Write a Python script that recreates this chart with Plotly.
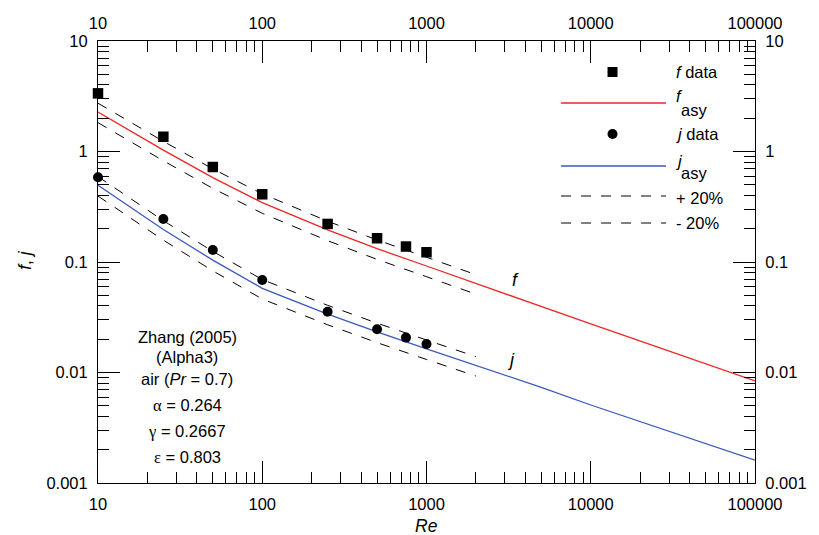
import plotly.graph_objects as go

# ---------------- data ----------------
re_data = [10, 25, 50, 100, 250, 500, 750, 1000]
f_data = [3.36, 1.36, 0.724, 0.41, 0.221, 0.164, 0.138, 0.1225]
j_data = [0.584, 0.245, 0.1285, 0.0687, 0.0355, 0.0246, 0.0207, 0.0181]

re_asy = [10, 25, 50, 100, 250, 500, 1000, 2000, 5000, 10000, 100000]
f_asy = [2.28, 1.03, 0.58, 0.345, 0.195, 0.132, 0.092, 0.064, 0.0395, 0.0275, 0.0084]
j_asy = [0.494, 0.197, 0.104, 0.0578, 0.0338, 0.0233, 0.0164, 0.0116, 0.00734, 0.00508, 0.00161]

band_max_re = 2000  # +/-20% bands drawn up to this Re

x_tickvals = [10, 100, 1000, 10000, 100000]
x_ticktext = ["10", "100", "1000", "10000", "100000"]
y_tickvals = [0.001, 0.01, 0.1, 1, 10]
y_ticktext = ["0.001", "0.01", "0.1", "1", "10"]

SER = '<span style="font-family:Liberation Serif, Times New Roman, serif">'
info_lines = ["Zhang (2005)", "(Alpha3)", "air (<i>Pr</i> = 0.7)",
              SER + "\u03b1</span> = 0.264", SER + "\u03b3</span> = 0.2667",
              SER + "\u03b5</span> = 0.803"]

# ---------------- layout geometry (pixels) ----------------
W, H = 819, 535
L, R, T, B = 98, 762, 41, 483
FONT = "Liberation Sans, Arial, sans-serif"
FS = 16.5
RED = "#f02525"
BLUE = "#3a58c0"


def px(x):
    return (x - L) / (R - L)


def py(y):
    return (B - y) / (B - T)


band_re = [r for r in re_asy if r <= band_max_re]
f_hi = [1.2 * v for r, v in zip(re_asy, f_asy) if r <= band_max_re]
f_lo = [0.8 * v for r, v in zip(re_asy, f_asy) if r <= band_max_re]
j_hi = [1.2 * v for r, v in zip(re_asy, j_asy) if r <= band_max_re]
j_lo = [0.8 * v for r, v in zip(re_asy, j_asy) if r <= band_max_re]

fig = go.Figure()
dash = dict(color="black", width=1, dash="10px,10px")
for yy in (f_hi, f_lo, j_hi, j_lo):
    fig.add_trace(go.Scatter(x=band_re, y=yy, mode="lines", line=dash,
                             showlegend=False, hoverinfo="skip"))
fig.add_trace(go.Scatter(x=re_asy, y=f_asy, mode="lines",
                         line=dict(color=RED, width=1.3), showlegend=False))
fig.add_trace(go.Scatter(x=re_asy, y=j_asy, mode="lines",
                         line=dict(color=BLUE, width=1.3), showlegend=False))
fig.add_trace(go.Scatter(x=re_data, y=f_data, mode="markers", cliponaxis=False,
                         marker=dict(symbol="square", size=10.5, color="black"),
                         showlegend=False))
fig.add_trace(go.Scatter(x=re_data, y=j_data, mode="markers", cliponaxis=False,
                         marker=dict(symbol="circle", size=10, color="black"),
                         showlegend=False))
# dummy trace to activate mirrored axes with labels
fig.add_trace(go.Scatter(x=[], y=[], xaxis="x2", yaxis="y2", showlegend=False))


def minor_vals(lo, hi):
    out = []
    for d in range(lo, hi):
        for m in range(2, 10):
            out.append(m * 10 ** d)
    return out


tickfont = dict(family=FONT, size=FS, color="black")
common = dict(type="log", ticks="inside", ticklen=22, tickwidth=1, tickcolor="black",
              showline=True, linecolor="black", linewidth=1, showgrid=False,
              zeroline=False, tickfont=tickfont, tickmode="array")
xcommon = dict(common, range=[1, 5], tickvals=x_tickvals, ticktext=x_ticktext,
               minor=dict(ticks="inside", ticklen=11, tickwidth=1, tickcolor="black",
                          tickmode="array", tickvals=minor_vals(1, 5), showgrid=False))
ycommon = dict(common, range=[-3, 1], tickvals=y_tickvals, ticktext=y_ticktext,
               minor=dict(ticks="inside", ticklen=11, tickwidth=1, tickcolor="black",
                          tickmode="array", tickvals=minor_vals(-3, 1), showgrid=False))

fig.update_layout(
    width=W, height=H,
    margin=dict(l=L, r=W - R, t=T, b=H - B),
    paper_bgcolor="white", plot_bgcolor="white",
    font=dict(family=FONT, size=FS, color="black"),
    xaxis=dict(xcommon, side="bottom", anchor="y", ticklabelstandoff=6),
    yaxis=dict(ycommon, side="left", anchor="x", ticklabelstandoff=6),
    xaxis2=dict(xcommon, side="top", overlaying="x", anchor="y", ticklabelstandoff=4),
    yaxis2=dict(ycommon, side="right", overlaying="y", anchor="x", ticklabelstandoff=6),
)

ann = []
shapes = []


def text(x, y, s, xanchor="left", size=FS, **kw):
    ann.append(dict(x=px(x), y=py(y), xref="paper", yref="paper", text=s,
                    showarrow=False, xanchor=xanchor, yanchor="middle",
                    font=dict(family=FONT, size=size, color="black"), **kw))


# axis titles
text(L + (R - L) / 2, 526, "<i>Re</i>", xanchor="center", size=17.5)
text(24, 260, "<i>f</i>, <i>j</i>", xanchor="center", size=17.5, textangle=-90)

# curve labels
text(520, 280, "<i>f</i>", xanchor="center", size=18)
text(515, 360, "<i>j</i>", xanchor="center", size=18)

# info block
info_y = [337, 357, 379, 405, 431, 457]
for s, yy in zip(info_lines, info_y):
    text(188, yy, s, xanchor="center")

# legend
lx0, lx1, mx, tx = 566, 672, 618, 680
shapes.append(dict(type="rect", xref="paper", yref="paper", xsizemode="pixel",
                   ysizemode="pixel", xanchor=px(mx), yanchor=py(72),
                   x0=-5, x1=5, y0=-5, y1=5, fillcolor="black", line=dict(width=0)))
text(tx, 72, "<i>f</i> data")
shapes.append(dict(type="line", xref="paper", yref="paper", x0=px(lx0), x1=px(lx1),
                   y0=py(103), y1=py(103), line=dict(color=RED, width=1.3)))
text(tx, 96, "<i>f</i>")
text(tx + 5, 110, "asy")
shapes.append(dict(type="circle", xref="paper", yref="paper", xsizemode="pixel",
                   ysizemode="pixel", xanchor=px(mx), yanchor=py(134),
                   x0=-5, x1=5, y0=-5, y1=5, fillcolor="black", line=dict(width=0)))
text(tx, 134, "<i>j</i> data")
shapes.append(dict(type="line", xref="paper", yref="paper", x0=px(lx0), x1=px(lx1),
                   y0=py(166), y1=py(166), line=dict(color=BLUE, width=1.3)))
text(tx, 161, "<i>j</i>")
text(tx + 5, 173, "asy")
shapes.append(dict(type="line", xref="paper", yref="paper", x0=px(lx0), x1=px(lx1),
                   y0=py(196), y1=py(196), line=dash))
text(tx, 198, "+ 20%")
shapes.append(dict(type="line", xref="paper", yref="paper", x0=px(lx0), x1=px(lx1),
                   y0=py(223), y1=py(223), line=dash))
text(tx, 223, "- 20%")

fig.update_layout(annotations=ann, shapes=shapes)
fig.write_html("out.html")
